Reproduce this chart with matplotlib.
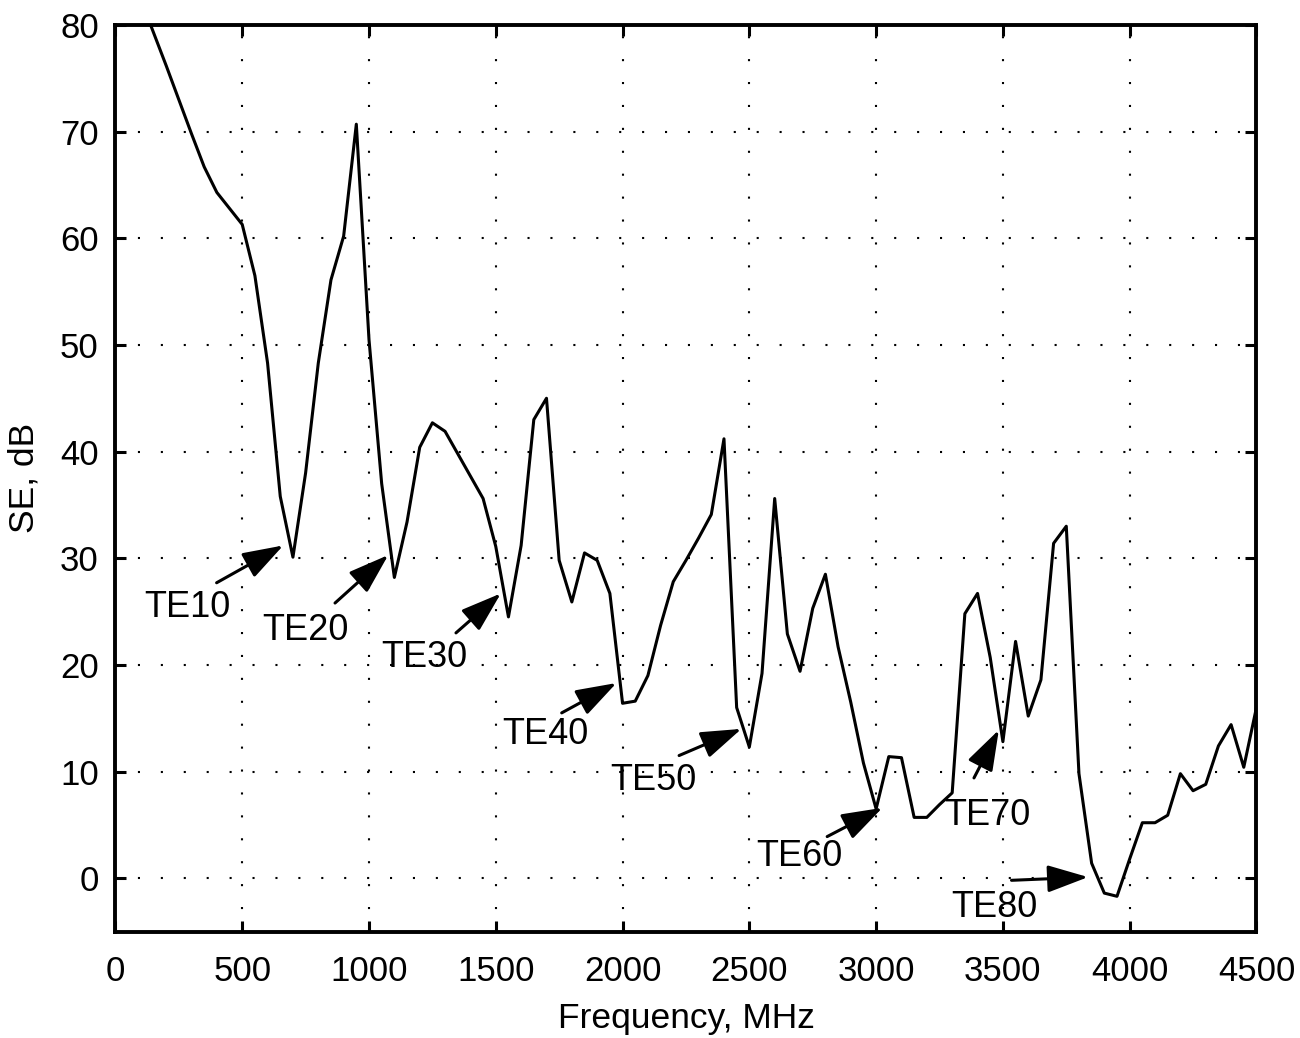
import matplotlib
matplotlib.use("Agg")
import matplotlib.pyplot as plt
import numpy as np

plt.rcParams['font.family'] = ['Liberation Sans', 'DejaVu Sans']

# Shielding effectiveness sampled every 50 MHz
freq_mhz = np.arange(100, 4600, 50)
se_db = [
    82.4, 79.3, 76.2, 73.0, 69.8, 66.7, 64.3, 62.8, 61.3, 56.5,   # 100 - 550
    48.3, 35.8, 30.1, 38.0, 48.3, 56.1, 60.2, 70.7, 50.5, 37.0,   # 600 - 1050
    28.2, 33.4, 40.4, 42.7, 41.9, 39.8, 37.7, 35.6, 31.1, 24.5,   # 1100 - 1550
    31.2, 43.0, 45.0, 29.8, 25.9, 30.5, 29.8, 26.7, 16.4, 16.6,   # 1600 - 2050
    19.0, 23.7, 27.8, 29.8, 31.9, 34.1, 41.2, 16.0, 12.3, 19.2,   # 2100 - 2550
    35.6, 22.9, 19.4, 25.3, 28.5, 21.7, 16.5, 10.8, 6.5, 11.4,    # 2600 - 3050
    11.3, 5.7, 5.7, 6.9, 8.0, 24.8, 26.7, 20.7, 12.8, 22.2,       # 3100 - 3550
    15.2, 18.6, 31.4, 33.0, 9.8, 1.4, -1.4, -1.7, 1.8, 5.2,       # 3600 - 4050
    5.2, 5.9, 9.8, 8.2, 8.8, 12.4, 14.4, 10.4, 16.0, 8.0,         # 4100 - 4550
]

# mode labels: (label, arrow tip, arrow tail, text position)
mode_labels = ["TE10", "TE20", "TE30", "TE40", "TE50", "TE60", "TE70", "TE80"]
arrow_tips = [(662, 31.2), (1076, 30.3), (1520, 26.7), (1976, 18.3),
              (2469, 14.0), (3025, 6.6), (3484, 13.9), (3836, 0.1)]
arrow_tails = [(399, 27.7), (866, 25.8), (1343, 23.0), (1760, 15.5),
               (2223, 11.5), (2807, 3.9), (3386, 9.4), (3534, -0.2)]
text_pos = [(283, 24.5), (751, 22.3), (1218, 19.8), (1694, 12.6),
            (2121, 8.3), (2698, 1.1), (3437, 5.0), (3468, -3.6)]

fig = plt.figure(figsize=(13, 10.38), dpi=100)
ax = fig.add_axes([0.0888, 0.1026, 0.8777, 0.8733])

ax.plot(freq_mhz, se_db, color='black', lw=2.2, zorder=3)

for lab, tip, tail, pos in zip(mode_labels, arrow_tips, arrow_tails, text_pos):
    ax.annotate('', xy=tip, xytext=tail,
                arrowprops=dict(arrowstyle='-|>,head_length=1.25,head_width=0.42',
                                mutation_scale=20, color='black', lw=2.2,
                                shrinkA=0, shrinkB=0),
                zorder=4)
    ax.text(pos[0], pos[1], lab, ha='center', va='baseline', fontsize=26)

ax.set_xlim(0, 4500)
ax.set_ylim(-5, 80)
ax.set_xticks(np.arange(0, 4501, 500))
ax.set_yticks(np.arange(0, 81, 10))

ax.grid(True, color='black', lw=1.5, linestyle=(0, (1, 10)))
ax.tick_params(direction='in', length=8, width=2.2, labelsize=25,
               top=True, right=True, pad=12)
ax.tick_params(axis='x', pad=17)
for s in ax.spines.values():
    s.set_linewidth(2.8)

ax.set_xlabel('Frequency, MHz', fontsize=25.5, labelpad=10)
ax.set_ylabel('SE, dB', fontsize=25.5, labelpad=14)

fig.savefig('out.png', dpi=100)
